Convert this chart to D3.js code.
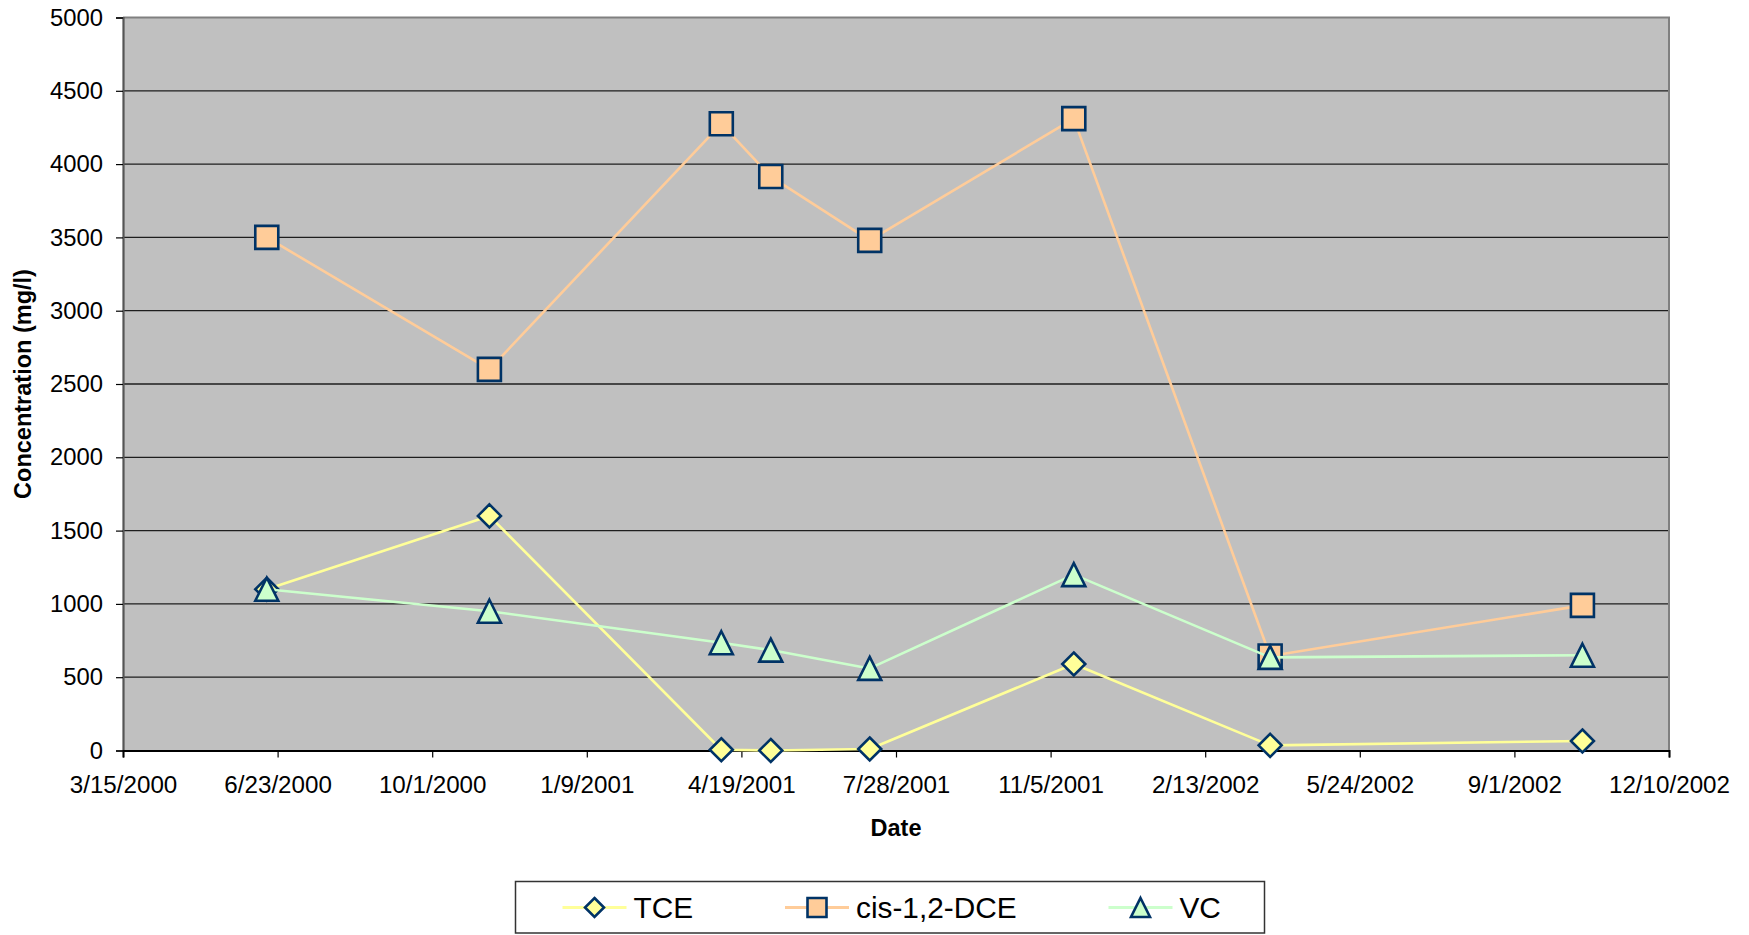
<!DOCTYPE html>
<html>
<head>
<meta charset="utf-8">
<script src="https://cdn.jsdelivr.net/npm/d3@7"></script>
<style>
  html, body { margin: 0; padding: 0; background: #ffffff; }
  svg { display: block; font-family: Arial, "Liberation Sans", sans-serif; }
</style>
</head>
<body>
<svg id="chart" width="1749" height="935"></svg>
<script>
// Sampling dates and measured concentrations (mg/l)
const sampleDates = ["6/16/2000", "11/7/2000", "4/6/2001", "5/8/2001", "7/11/2001", "11/20/2001", "3/27/2002", "10/15/2002"];
const tceValues = [1100, 1600, 5, 0, 10, 590, 35, 65];
const dceValues = [3500, 2600, 4275, 3915, 3480, 4310, 645, 990];
const vcValues  = [1100, 950, 735, 685, 560, 1200, 635, 650];

const seriesNames = ["TCE", "cis-1,2-DCE", "VC"];

// Axis ticks
const xTickLabels = ["3/15/2000", "6/23/2000", "10/1/2000", "1/9/2001", "4/19/2001", "7/28/2001", "11/5/2001", "2/13/2002", "5/24/2002", "9/1/2002", "12/10/2002"];
const yTickValues = [0, 500, 1000, 1500, 2000, 2500, 3000, 3500, 4000, 4500, 5000];

const parseDate = d3.utcParse("%m/%d/%Y");
const fmtDate = d3.utcFormat("%-m/%-d/%Y");

const svg = d3.select("#chart");
const plot = { left: 123, right: 1669, top: 17.5, bottom: 750.5 };

const xTicks = xTickLabels.map(parseDate);
const x = d3.scaleUtc()
  .domain([xTicks[0], xTicks[xTicks.length - 1]])
  .range([plot.left, plot.right]);
const y = d3.scaleLinear()
  .domain([0, 5000])
  .range([plot.bottom, plot.top]);

// Plot area background
svg.append("rect")
  .attr("x", plot.left).attr("y", plot.top)
  .attr("width", plot.right - plot.left).attr("height", plot.bottom - plot.top)
  .attr("fill", "#c0c0c0");

// Horizontal gridlines
svg.append("g")
  .selectAll("line")
  .data(yTickValues.filter(v => v > 0 && v < 5000))
  .join("line")
  .attr("x1", plot.left).attr("x2", plot.right)
  .attr("y1", d => y(d)).attr("y2", d => y(d))
  .attr("stroke", "#1e1e1e").attr("stroke-width", 1.3);

// Plot area frame (top and right)
svg.append("path")
  .attr("d", `M${plot.left},${plot.top}H${plot.right}V${plot.bottom}`)
  .attr("fill", "none").attr("stroke", "#808080").attr("stroke-width", 2);

// Y axis
const yAxis = svg.append("g")
  .attr("transform", `translate(${plot.left},0)`)
  .call(d3.axisLeft(y).tickValues(yTickValues).tickSize(7).tickPadding(13).tickFormat(d3.format("d")));
yAxis.select(".domain").attr("stroke", "#555555").attr("stroke-width", 2.2);
yAxis.selectAll(".tick line").attr("stroke", "#000").attr("stroke-width", 1.2);
yAxis.selectAll(".tick text")
  .attr("font-size", 23.8).attr("fill", "#000")
  .attr("font-family", "Arial, 'Liberation Sans', sans-serif");

// X axis
const xAxis = svg.append("g")
  .attr("transform", `translate(0,${plot.bottom})`)
  .call(d3.axisBottom(x).tickValues(xTicks).tickSize(7).tickPadding(18).tickFormat(fmtDate));
xAxis.select(".domain").attr("stroke", "#000").attr("stroke-width", 2);
xAxis.selectAll(".tick line").attr("stroke", "#000").attr("stroke-width", 1.2);
xAxis.selectAll(".tick text")
  .attr("font-size", 24.2).attr("fill", "#000")
  .attr("font-family", "Arial, 'Liberation Sans', sans-serif");

// Axis titles
svg.append("text")
  .attr("x", (plot.left + plot.right) / 2).attr("y", 836)
  .attr("text-anchor", "middle")
  .attr("font-size", 23.5).attr("font-weight", "bold")
  .text("Date");

svg.append("text")
  .attr("transform", `translate(31,${(plot.top + plot.bottom) / 2}) rotate(-90)`)
  .attr("text-anchor", "middle")
  .attr("font-size", 23.5).attr("font-weight", "bold")
  .text("Concentration (mg/l)");

// Marker shapes (half size h)
const markerPath = {
  diamond: h => `M0,${-h}L${h},0L0,${h}L${-h},0Z`,
  square: h => `M${-h},${-h}H${h}V${h}H${-h}Z`,
  triangle: h => `M0,${-h}L${h},${h}H${-h}Z`
};

const dates = sampleDates.map(parseDate);
const series = [
  { name: seriesNames[0], values: tceValues, color: "#ffff99", shape: "diamond" },
  { name: seriesNames[1], values: dceValues, color: "#ffcc99", shape: "square" },
  { name: seriesNames[2], values: vcValues,  color: "#ccffcc", shape: "triangle" }
];
const markerStroke = "#003366";
const markerHalf = 11.5;

const line = d3.line().x(d => x(d.date)).y(d => y(d.value));

series.forEach(s => {
  const pts = dates.map((d, i) => ({ date: d, value: s.values[i] }));
  const g = svg.append("g");
  g.append("path")
    .datum(pts)
    .attr("d", line)
    .attr("fill", "none")
    .attr("stroke", s.color)
    .attr("stroke-width", 2.6)
    .attr("stroke-linejoin", "round");
  g.selectAll("path.marker")
    .data(pts)
    .join("path")
    .attr("class", "marker")
    .attr("transform", d => `translate(${x(d.date)},${y(d.value)})`)
    .attr("d", markerPath[s.shape](markerHalf))
    .attr("fill", s.color)
    .attr("stroke", markerStroke)
    .attr("stroke-width", 2.6)
    .attr("stroke-linejoin", "miter");
});

// Legend
const legend = svg.append("g");
legend.append("rect")
  .attr("x", 515.5).attr("y", 881.5)
  .attr("width", 749).attr("height", 51.5)
  .attr("fill", "#ffffff").attr("stroke", "#333333").attr("stroke-width", 1.5);

const legendMarkerX = [594.5, 817, 1140.5];
const legendCy = 907.5;
series.forEach((s, i) => {
  const cx = legendMarkerX[i];
  legend.append("line")
    .attr("x1", cx - 32).attr("x2", cx + 32)
    .attr("y1", legendCy).attr("y2", legendCy)
    .attr("stroke", s.color).attr("stroke-width", 3);
  legend.append("path")
    .attr("transform", `translate(${cx},${legendCy})`)
    .attr("d", markerPath[s.shape](9.5))
    .attr("fill", s.color)
    .attr("stroke", markerStroke)
    .attr("stroke-width", 2.6);
  legend.append("text")
    .attr("x", cx + 39).attr("y", legendCy + 10.5)
    .attr("font-size", 29.8)
    .attr("fill", "#000")
    .text(s.name);
});
</script>
</body>
</html>
